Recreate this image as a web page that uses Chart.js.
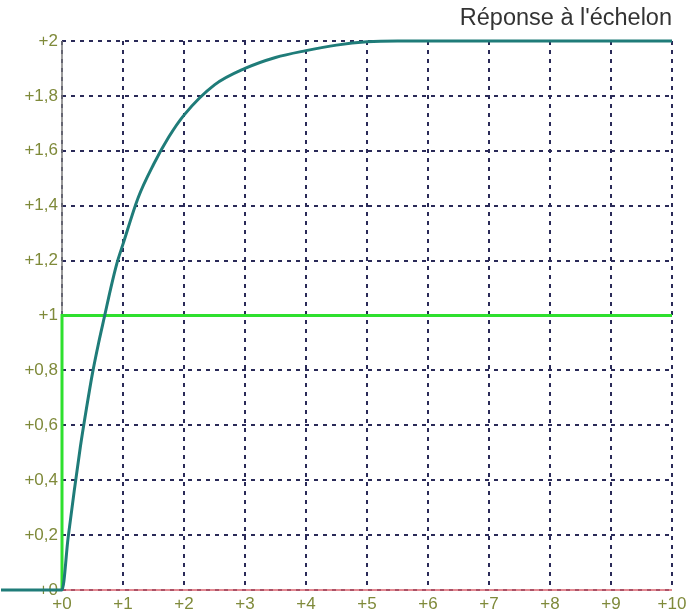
<!DOCTYPE html>
<html><head><meta charset="utf-8">
<script src="https://cdn.jsdelivr.net/npm/chart.js@4/dist/chart.umd.min.js"></script>
<style>html,body{margin:0;padding:0;background:#fff}#wrap{width:686px;height:615px}</style>
</head><body><div id="wrap"><canvas id="c"></canvas></div>
<script>
const titleText = "Réponse à l'échelon";
const responseT = [-1, 0, 0.1, 0.2, 0.3, 0.4, 0.5, 0.6, 0.7, 0.8, 0.9, 1, 1.25, 1.5, 1.75, 2, 2.5, 3, 3.5, 4, 4.5, 5, 5.5, 6, 7, 8, 9, 10];
const responseY = [0, 0, 0.19, 0.36, 0.52, 0.66, 0.79, 0.9, 1.0, 1.1, 1.19, 1.26, 1.43, 1.55, 1.65, 1.73, 1.84, 1.9, 1.94, 1.965, 1.985, 1.997, 2.0, 2.0, 2.0, 2.0, 2.0, 2.0];
const stepT = [0, 0, 10];
const stepY = [0, 1, 1];
const xTickLabels = ['+0','+1','+2','+3','+4','+5','+6','+7','+8','+9','+10'];
const yTickLabels = ['+0','+0,2','+0,4','+0,6','+0,8','+1','+1,2','+1,4','+1,6','+1,8','+2'];

const toPts = (xs, ys) => xs.map((x, i) => ({x, y: ys[i]}));
const tickFont = {family: 'Liberation Sans, Arial, sans-serif', size: 17};
const tickColor = '#7f8a3a';
const gridColor = '#2a2a58';

const axisLines = {
  id: 'axisLines',
  beforeDatasetsDraw(chart) {
    const {ctx, chartArea: a, scales: {x, y}} = chart;
    ctx.save();
    ctx.setLineDash([]);
    ctx.lineWidth = 1.5;
    ctx.strokeStyle = '#7a7a7a';
    ctx.beginPath(); ctx.moveTo(x.getPixelForValue(0), a.top); ctx.lineTo(x.getPixelForValue(0), a.bottom); ctx.stroke();
    ctx.strokeStyle = '#d8606c';
    ctx.beginPath(); ctx.moveTo(a.left, y.getPixelForValue(0)); ctx.lineTo(a.right, y.getPixelForValue(0)); ctx.stroke();
    ctx.restore();
  }
};

new Chart(document.getElementById('c'), {
  type: 'line',
  data: {
    datasets: [
      {label: 'réponse', data: toPts(responseT, responseY), borderColor: '#1f7c79', borderWidth: 3, pointRadius: 0, cubicInterpolationMode: 'monotone', clip: false, order: 0},
      {label: 'échelon', data: toPts(stepT, stepY), borderColor: '#2ee02e', borderWidth: 3, pointRadius: 0, tension: 0, clip: false, order: 1}
    ]
  },
  plugins: [axisLines],
  options: {
    responsive: true, maintainAspectRatio: false, animation: false,
    layout: {padding: {left: 0, right: 14, top: 0, bottom: 0}},
    plugins: {
      legend: {display: false}, tooltip: {enabled: false},
      title: {display: true, text: titleText, align: 'end', color: '#333',
        font: {family: 'Liberation Sans, Arial, sans-serif', size: 23.5, weight: 'normal', lineHeight: 1.2},
        padding: {top: 4, bottom: 8.8}}
    },
    scales: {
      x: {
        type: 'linear', min: 0, max: 10,
        afterFit: s => { s.height = 25; s.paddingRight = 0; s.paddingLeft = 0; },
        ticks: {stepSize: 1, padding: 4, color: tickColor, font: tickFont, maxRotation: 0,
          callback: (v, i) => xTickLabels[i]},
        grid: {color: gridColor, lineWidth: 2, drawTicks: false},
        border: {display: false, dash: [4, 5]}
      },
      y: {
        type: 'linear', min: 0, max: 2,
        afterFit: s => { s.width = 62; },
        ticks: {stepSize: 0.2, padding: 4, color: tickColor, font: tickFont,
          callback: (v, i) => yTickLabels[i]},
        grid: {color: gridColor, lineWidth: 2, drawTicks: false},
        border: {display: false, dash: [4, 5]}
      }
    }
  }
});
</script></body></html>
